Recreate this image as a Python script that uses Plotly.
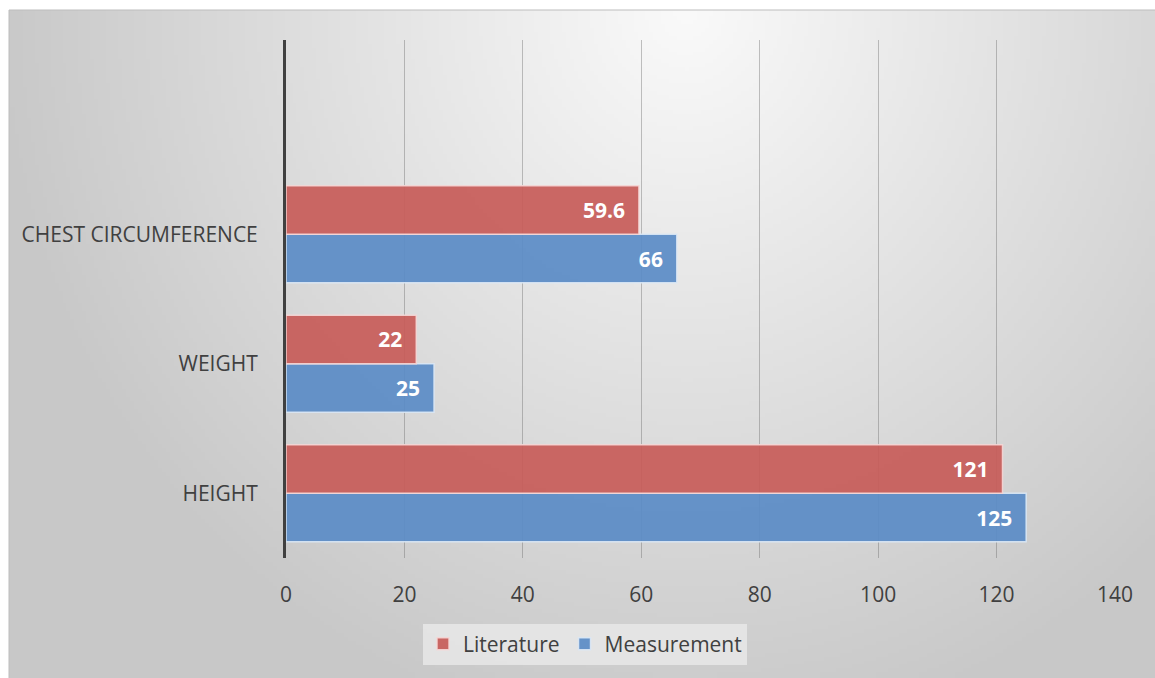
import base64
import struct
import zlib

import numpy as np
import plotly.graph_objects as go

# ---------------- data ----------------
categories = ["HEIGHT", "WEIGHT", "CHEST CIRCUMFERENCE"]
literature = [121, 22, 59.6]
measurement = [125, 25, 66]
x_ticks = [0, 20, 40, 60, 80, 100, 120, 140]

W, H = 1155, 678
FONT = "Open Sans"
TXT = "#404040"
FS = 21


# ---------------- background gradient image ----------------
def gradient_png(w, h):
    ys, xs = np.mgrid[0:h, 0:w].astype(float)
    sx, sy = W / w, H / h
    dx = (xs * sx - 680) / 700.0
    dy = (ys * sy - 0) / 750.0
    d = np.clip(np.sqrt(dx ** 2 + dy ** 2), 0, 1)
    c = (250 - 50 * d).astype(np.uint8)
    raw = b"".join(b"\x00" + c[r].tobytes() for r in range(h))

    def chunk(tag, data):
        return (struct.pack(">I", len(data)) + tag + data +
                struct.pack(">I", zlib.crc32(tag + data) & 0xFFFFFFFF))

    png = b"\x89PNG\r\n\x1a\n"
    png += chunk(b"IHDR", struct.pack(">IIBBBBB", w, h, 8, 0, 0, 0, 0))
    png += chunk(b"IDAT", zlib.compress(raw, 9))
    png += chunk(b"IEND", b"")
    return "data:image/png;base64," + base64.b64encode(png).decode()


bg = gradient_png(289, 170)

fig = go.Figure()
fig.add_trace(go.Bar(
    y=categories, x=measurement, name="Measurement", orientation="h",
    marker=dict(color="rgba(91,140,198,0.93)",
                line=dict(color="rgba(220,232,245,0.9)", width=1.5)),
    texttemplate="<b>%{x}</b>\u00a0\u00a0", textposition="inside",
    insidetextanchor="end",
    textfont=dict(family=FONT, size=FS, color="white"),
    legendrank=2,
))
fig.add_trace(go.Bar(
    y=categories, x=literature, name="Literature", orientation="h",
    marker=dict(color="rgba(199,92,89,0.93)",
                line=dict(color="rgba(245,215,214,0.9)", width=1.5)),
    texttemplate="<b>%{x}</b>\u00a0\u00a0", textposition="inside",
    insidetextanchor="end",
    textfont=dict(family=FONT, size=FS, color="white"),
    legendrank=1,
))

fig.update_layout(
    width=W, height=H, autosize=False,
    margin=dict(l=0, r=0, t=0, b=0, autoexpand=False),
    paper_bgcolor="white",
    plot_bgcolor="rgba(0,0,0,0)",
    barmode="group", bargap=0.25, bargroupgap=0,
    font=dict(family=FONT, color=TXT),
    images=[dict(source=bg, xref="paper", yref="paper",
                 x=9 / W, y=1 - 10 / H, sizex=1 - 9 / W, sizey=1 - 10 / H,
                 xanchor="left", yanchor="top", sizing="stretch",
                 layer="below")],
    shapes=[dict(type="rect", xref="paper", yref="paper",
                 x0=9 / W, x1=1.01, y0=-0.01, y1=1 - 10 / H,
                 line=dict(color="#bdbdbd", width=1), layer="below")],
    xaxis=dict(
        domain=[286 / W, 1115 / W], range=[0, 140], automargin=False,
        tickvals=x_ticks, ticktext=[str(v) for v in x_ticks],
        showgrid=True, gridcolor="rgba(105,105,105,0.4)", gridwidth=1,
        zeroline=False, showline=False,
        ticks="outside", ticklen=18, tickcolor="rgba(0,0,0,0)",
        tickfont=dict(size=FS, color=TXT, family=FONT),
        fixedrange=True,
    ),
    yaxis=dict(
        domain=[1 - 558 / H, 1 - 40 / H], automargin=False,
        type="category", categoryorder="array", categoryarray=categories,
        range=[-0.5, 3.5],
        showgrid=False, zeroline=False,
        showline=True, linecolor="#404040", linewidth=3,
        ticks="outside", ticklen=21, tickcolor="rgba(0,0,0,0)",
        tickfont=dict(size=FS, color=TXT, family=FONT),
        fixedrange=True,
    ),
    legend=dict(
        orientation="h", x=585 / W, xanchor="center",
        y=1 - 644 / H, yanchor="middle",
        bgcolor="rgba(232,232,232,0.85)", borderwidth=0,
        font=dict(size=FS, color=TXT, family=FONT),
        itemwidth=30, traceorder="normal",
    ),
    showlegend=True,
)

fig.write_html("out.html", config={"displayModeBar": False})
